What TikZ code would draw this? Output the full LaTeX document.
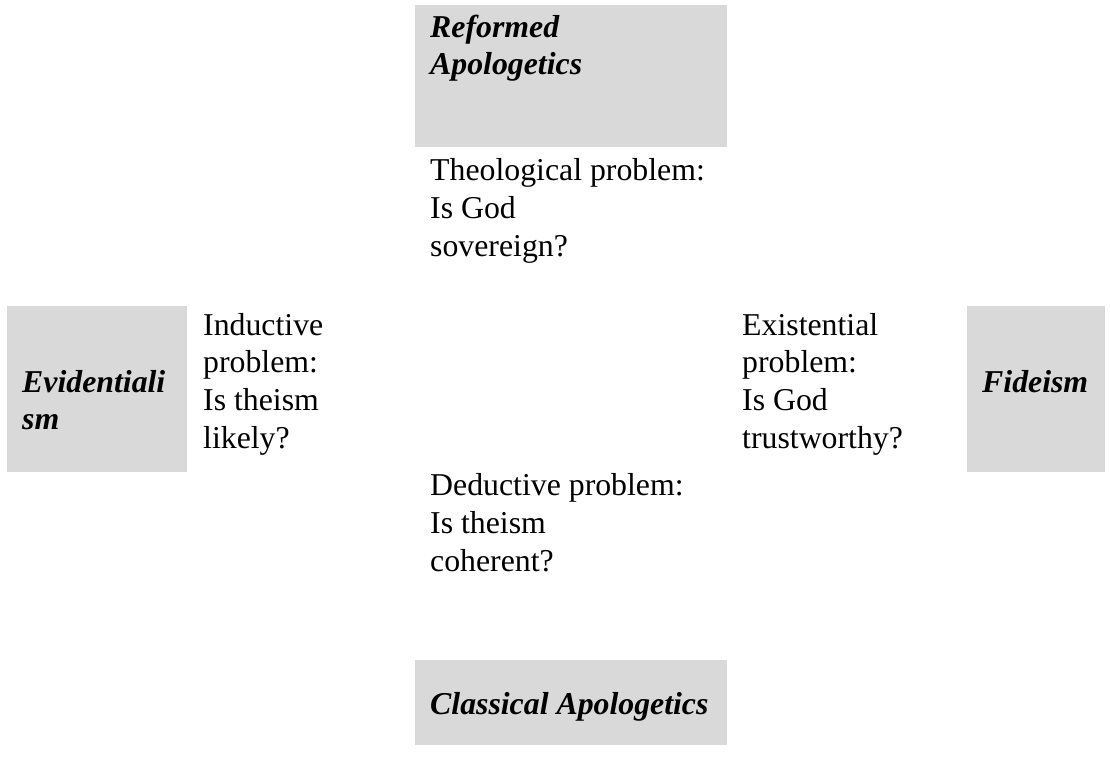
\documentclass[tikz,border=0pt]{standalone}
\usepackage{fontspec}
\setmainfont{Liberation Serif}
\definecolor{cellgray}{RGB}{217,217,217}
\tikzset{
  txt/.style={inner sep=0pt, anchor=base west, font=\fontsize{31.8}{38}\selectfont},
  head/.style={txt, font=\fontsize{31.8}{38}\selectfont\bfseries\itshape},
  cell/.style={fill=cellgray, draw=none}
}
\begin{document}
\begin{tikzpicture}[x=1pt,y=-1pt]
\useasboundingbox (0,0) rectangle (1110,761);

% shaded heading cells
\path[cell] (415,5) rectangle (727,147);
\path[cell] (7,306) rectangle (187,472);
\path[cell] (967,306) rectangle (1105,472);
\path[cell] (415,660) rectangle (727,745);

% headings
\node[head] (ref1) at (430,37) {Reformed};
\node[head] (ref2) at (430,74) {Apologetics};
\node[head] (evi1) at (22,392) {Evidentiali};
\node[head] (evi2) at (22,429) {sm};
\node[head] (fid) at (982,392) {Fideism};
\node[head] (cla) at (430,714) {Classical Apologetics};

% theological problem (top)
\node[txt] (th1) at (430,180) {Theological problem:};
\node[txt] (th2) at (430,218) {Is God};
\node[txt] (th3) at (430,256) {sovereign?};

% inductive problem (left)
\node[txt] (in1) at (203,335) {Inductive};
\node[txt] (in2) at (203,372) {problem:};
\node[txt] (in3) at (203,410) {Is theism};
\node[txt] (in4) at (203,448) {likely?};

% existential problem (right)
\node[txt] (ex1) at (742,335) {Existential};
\node[txt] (ex2) at (742,372) {problem:};
\node[txt] (ex3) at (742,410) {Is God};
\node[txt] (ex4) at (742,448) {trustworthy?};

% deductive problem (bottom)
\node[txt] (de1) at (430,495) {Deductive problem:};
\node[txt] (de2) at (430,533) {Is theism};
\node[txt] (de3) at (430,571) {coherent?};
\end{tikzpicture}
\end{document}
